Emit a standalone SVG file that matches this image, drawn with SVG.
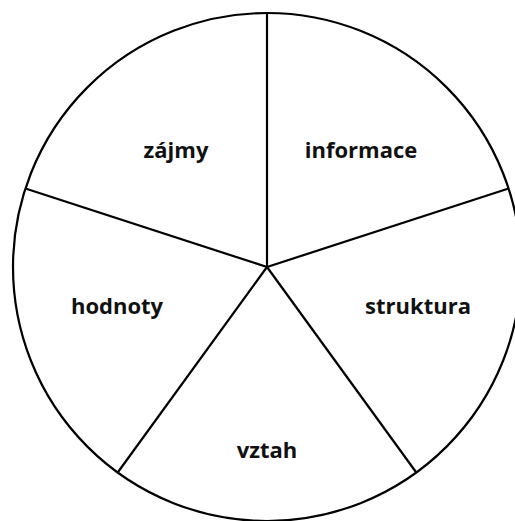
<svg xmlns="http://www.w3.org/2000/svg" width="515" height="521" viewBox="0 0 515 521">
<style>
.ln{stroke:#000;stroke-width:2.2;fill:none}
.lb{font-family:"Open Sans","DejaVu Sans",sans-serif;font-weight:bold;font-size:22px;fill:#111;text-anchor:middle}
</style>
<rect width="515" height="521" fill="#fff"/>
<g id="connectors">
<circle class="ln" cx="267" cy="267" r="254"/>
<line class="ln" x1="267" y1="267" x2="267" y2="13"/>
<line class="ln" x1="267" y1="267" x2="508.6" y2="188.5"/>
<line class="ln" x1="267" y1="267" x2="416.3" y2="472.5"/>
<line class="ln" x1="267" y1="267" x2="117.7" y2="472.5"/>
<line class="ln" x1="267" y1="267" x2="25.4" y2="188.5"/>
</g>
<g id="zajmy"><text class="lb" x="176" y="158">zájmy</text></g>
<g id="informace"><text class="lb" x="361" y="158">informace</text></g>
<g id="hodnoty"><text class="lb" x="117" y="314">hodnoty</text></g>
<g id="struktura"><text class="lb" x="418" y="314">struktura</text></g>
<g id="vztah"><text class="lb" x="267" y="458">vztah</text></g>
</svg>
